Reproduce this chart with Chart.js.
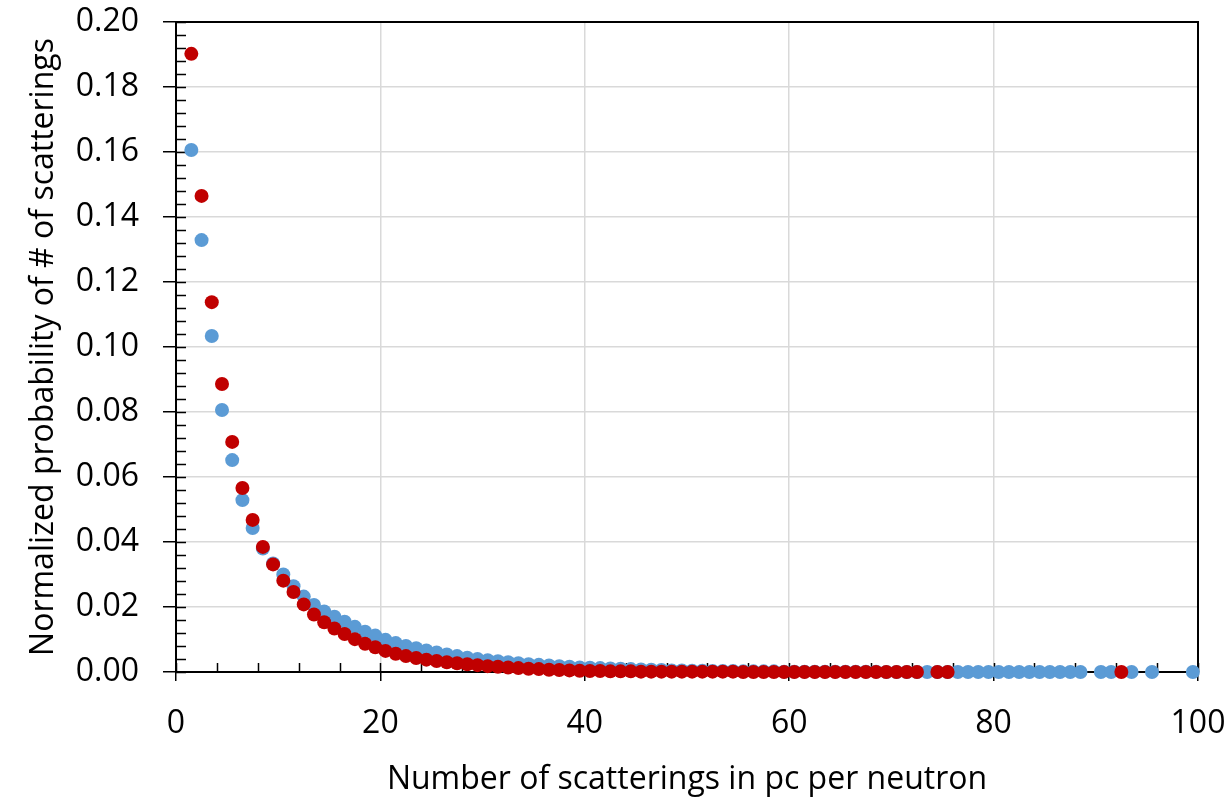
<!DOCTYPE html>
<html>
<head>
<meta charset="utf-8">
<script src="https://cdn.jsdelivr.net/npm/chart.js@4.4.1/dist/chart.umd.min.js"></script>
<style>
  html, body { margin: 0; padding: 0; background: #fff; }
  #wrap { width: 1231px; height: 799px; }
</style>
</head>
<body>
<div id="wrap"><canvas id="chart" width="1231" height="799"></canvas></div>
<script>
// --- DATA ---
// bin centres: number of scatterings in pc per neutron
const scatterCount = [
  1.5, 2.5, 3.5, 4.5, 5.5, 6.5, 7.5, 8.5, 9.5, 10.5,
  11.5, 12.5, 13.5, 14.5, 15.5, 16.5, 17.5, 18.5, 19.5, 20.5,
  21.5, 22.5, 23.5, 24.5, 25.5, 26.5, 27.5, 28.5, 29.5, 30.5,
  31.5, 32.5, 33.5, 34.5, 35.5, 36.5, 37.5, 38.5, 39.5, 40.5,
  41.5, 42.5, 43.5, 44.5, 45.5, 46.5, 47.5, 48.5, 49.5, 50.5,
  51.5, 52.5, 53.5, 54.5, 55.5, 56.5, 57.5, 58.5, 59.5, 60.5,
  61.5, 62.5, 63.5, 64.5, 65.5, 66.5, 67.5, 68.5, 69.5, 70.5,
  71.5, 72.5, 73.5, 74.5, 75.5, 76.5, 77.5, 78.5, 79.5, 80.5,
  81.5, 82.5, 83.5, 84.5, 85.5, 86.5, 87.5, 88.5, 89.5, 90.5,
  91.5, 92.5, 93.5, 94.5, 95.5, 96.5, 97.5, 98.5, 99.5
];

// blue series (null = no point in that bin)
const blueProb = [
  0.1606, 0.1329, 0.1034, 0.0806, 0.0652, 0.0529, 0.0443, 0.0380, 0.0334, 0.0300,
  0.0264, 0.0232, 0.0206, 0.0186, 0.0170, 0.0155, 0.0139, 0.0124, 0.0112, 0.0099,
  0.0089, 0.0080, 0.0073, 0.0066, 0.0060, 0.0054, 0.0049, 0.0044, 0.0040, 0.0036,
  0.0033, 0.0030, 0.0027, 0.0024, 0.0022, 0.0020, 0.0018, 0.0016, 0.0014, 0.0013,
  0.0012, 0.0011, 0.0010, 0.0009, 0.0008, 0.0007, 0.0006, 0.0005, 0.0005, 0.0004,
  0.0004, 0.0003, 0.0003, 0.0003, 0.0002, 0.0002, 0.0002, 0.0002, 0.0001, 0.0001,
  0.0001, 0.0001, 0.0001, 0.0001, 0.0001, 0.0001, 0.0001, 0.0001, 0.0000, 0.0000,
  0.0000, 0.0000, 0.0000, 0.0000, 0.0000, 0.0000, 0.0000, 0.0000, 0.0000, 0.0000,
  0.0000, 0.0000, 0.0000, 0.0000, 0.0000, 0.0000, 0.0000, 0.0000, null,   0.0000,
  0.0000, null,   0.0000, null,   0.0000, null,   null,   null,   0.0000
];

// red series
const redProb = [
  0.1902, 0.1465, 0.1138, 0.0886, 0.0708, 0.0566, 0.0468, 0.0385, 0.0331, 0.0281,
  0.0246, 0.0208, 0.0177, 0.0153, 0.0134, 0.0117, 0.0101, 0.0087, 0.0076, 0.0065,
  0.0056, 0.0049, 0.0043, 0.0038, 0.0034, 0.0030, 0.0027, 0.0024, 0.0021, 0.0018,
  0.0016, 0.0014, 0.0012, 0.0010, 0.0009, 0.0007, 0.0006, 0.0005, 0.0004, 0.0003,
  0.0003, 0.0002, 0.0002, 0.0002, 0.0001, 0.0001, 0.0001, 0.0001, 0.0001, 0.0001,
  0.0001, 0.0001, 0.0001, 0.0001, 0.0000, 0.0000, 0.0000, 0.0000, 0.0000, 0.0000,
  0.0000, 0.0000, 0.0000, 0.0000, 0.0000, 0.0000, 0.0000, 0.0000, 0.0000, 0.0000,
  0.0000, 0.0000, null,   0.0000, 0.0000, null,   null,   null,   null,   null,
  null,   null,   null,   null,   null,   null,   null,   null,   null,   null,
  null,   0.0000, null,   null,   null,   null,   null,   null,   null
];

const xTitle = 'Number of scatterings in pc per neutron';
const yTitle = 'Normalized probability of # of scatterings';

function toPoints(ys) {
  const pts = [];
  ys.forEach((y, i) => { if (y !== null) pts.push({ x: scatterCount[i], y: y }); });
  return pts;
}

const FONT = "'Open Sans', sans-serif";

// --- axes frame + inner tick marks (Excel style) ---
const frame = {
  id: 'frame',
  beforeDatasetsDraw(chart) {
    const { ctx, chartArea: a, scales: { x, y } } = chart;
    ctx.save();
    ctx.strokeStyle = '#000';
    ctx.lineWidth = 2;
    // top + right border
    ctx.beginPath();
    ctx.moveTo(a.left, a.top); ctx.lineTo(a.right, a.top); ctx.lineTo(a.right, a.bottom);
    ctx.stroke();
    // y minor/major ticks pointing inside
    ctx.lineWidth = 1.5;
    ctx.beginPath();
    for (let i = 0; i <= 50; i++) {
      const py = Math.round(y.getPixelForValue(i * 0.004)) + 0.5;
      ctx.moveTo(a.left, py); ctx.lineTo(a.left + 10, py);
    }
    // x minor/major ticks pointing inside
    for (let i = 0; i <= 25; i++) {
      const px = Math.round(x.getPixelForValue(i * 4)) + 0.5;
      ctx.moveTo(px, a.bottom); ctx.lineTo(px, a.bottom - 9);
    }
    ctx.stroke();
    ctx.restore();
  }
};

new Chart(document.getElementById('chart'), {
  type: 'scatter',
  data: {
    datasets: [
      // red listed first so it is drawn on top of blue
      { label: 'red', data: toPoints(redProb), backgroundColor: '#C00000', borderWidth: 0, pointRadius: 7, clip: false },
      { label: 'blue', data: toPoints(blueProb), backgroundColor: '#5B9BD5', borderWidth: 0, pointRadius: 7, clip: false }
    ]
  },
  plugins: [frame],
  options: {
    responsive: false,
    animation: false,
    layout: { padding: { left: 0, top: 22, right: 33, bottom: 0 } },
    plugins: { legend: { display: false }, tooltip: { enabled: false } },
    scales: {
      x: {
        type: 'linear', min: 0, max: 100,
        afterFit: s => { s.height = 127; s.paddingLeft = 0; s.paddingRight = 0; },
        ticks: { stepSize: 20, padding: 24, color: '#000', font: { family: FONT, size: 32 } },
        grid: { color: '#d9d9d9', lineWidth: 1.5, tickColor: '#000', tickLength: 9, tickWidth: 1.5 },
        border: { color: '#000', width: 2 },
        title: { display: true, text: xTitle, color: '#000', font: { family: FONT, size: 32 }, padding: { top: 0, bottom: 0 } }
      },
      y: {
        type: 'linear', min: 0, max: 0.2,
        afterFit: s => { s.width = 176; s.paddingTop = 0; s.paddingBottom = 0; },
        ticks: { stepSize: 0.02, padding: 24, color: '#000', font: { family: FONT, size: 32 },
                 callback: v => v.toFixed(2) },
        grid: { color: '#d9d9d9', lineWidth: 1.5, tickColor: '#000', tickLength: 13, tickWidth: 1.5 },
        border: { color: '#000', width: 2 },
        title: { display: true, text: yTitle, color: '#000', font: { family: FONT, size: 32 }, padding: { top: 25, bottom: 0 } }
      }
    }
  }
});
</script>
</body>
</html>
